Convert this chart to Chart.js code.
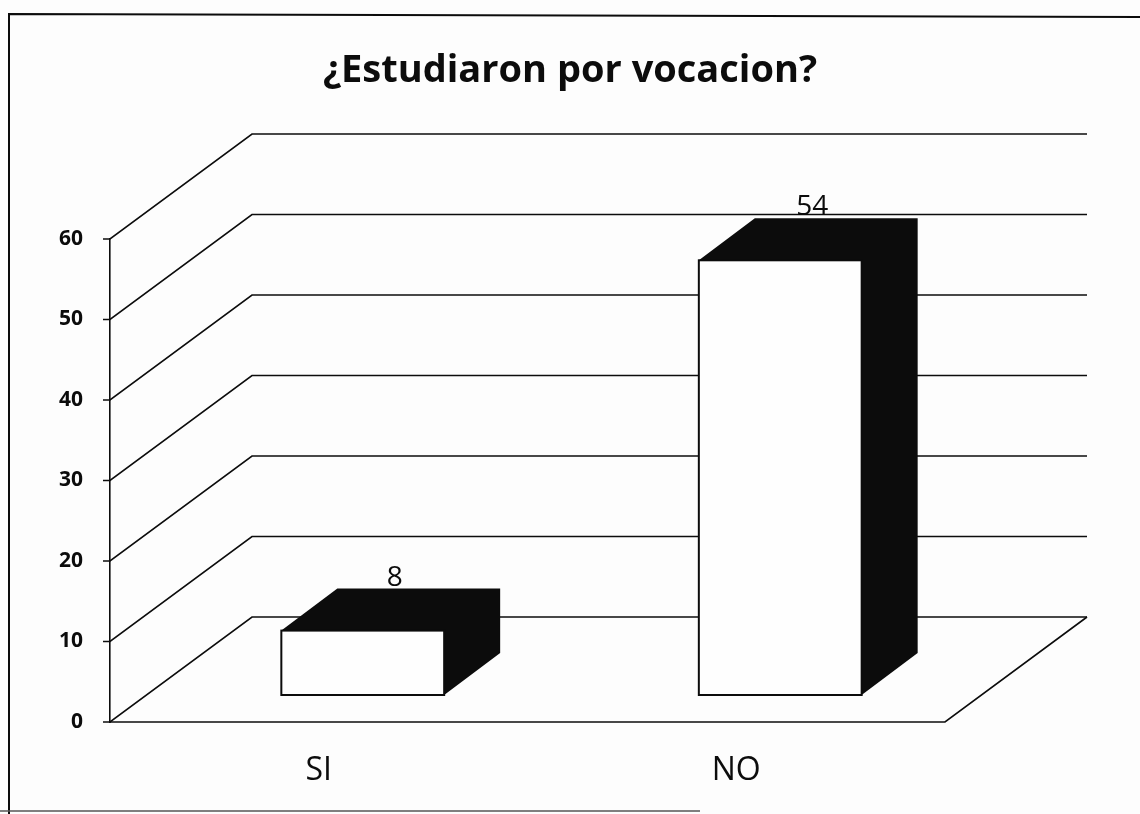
<!DOCTYPE html>
<html>
<head>
<meta charset="utf-8">
<script src="https://cdn.jsdelivr.net/npm/chart.js@4.4.0/dist/chart.umd.min.js"></script>
<style>
  html, body { margin: 0; padding: 0; background: #fdfdfd; }
  #wrap { width: 1140px; height: 814px; position: relative; }
</style>
</head>
<body>
<div id="wrap"><canvas id="chart"></canvas></div>
<script>
const titleText = '¿Estudiaron por vocacion?';
const categories = ['SI', 'NO'];
const values = [8, 54];
const yMax = 60;
const yStep = 10;

// depth of the 3D box, and where bars sit inside it
const wallDX = 142, wallDY = -105;
const barOffX = 44, barOffY = -27;
const barDX = 56, barDY = -42;
const ink = '#0c0c0c';

const wallsPlugin = {
  id: 'walls',
  beforeDraw(chart) {
    const c = chart.ctx;
    c.save();
    c.strokeStyle = ink;
    c.lineWidth = 2;
    c.beginPath();
    c.moveTo(9, 814); c.lineTo(9, 14); c.lineTo(1140, 17);
    c.stroke();
    c.strokeStyle = '#555';
    c.lineWidth = 1.5;
    c.beginPath();
    c.moveTo(0, 811); c.lineTo(700, 811);
    c.stroke();
    c.restore();
  },
  beforeDatasetsDraw(chart) {
    const c = chart.ctx;
    const y = chart.scales.y;
    const left = chart.chartArea.left, right = chart.chartArea.right;
    c.save();
    c.strokeStyle = ink;
    c.lineWidth = 1.6;
    y.ticks.forEach(t => {
      const py = y.getPixelForValue(t.value);
      c.beginPath();
      c.moveTo(left - 7, py);
      c.lineTo(left, py);
      c.lineTo(left + wallDX, py + wallDY);
      c.lineTo(right + wallDX, py + wallDY);
      c.stroke();
    });
    const p0 = y.getPixelForValue(0);
    c.beginPath();
    c.moveTo(left, p0);
    c.lineTo(right, p0);
    c.lineTo(right + wallDX, p0 + wallDY);
    c.stroke();
    c.restore();
  },
  afterDatasetsDraw(chart) {
    const c = chart.ctx;
    const meta = chart.getDatasetMeta(0);
    c.save();
    meta.data.forEach((bar, i) => {
      const x1 = bar.x - bar.width / 2 + barOffX;
      const x2 = bar.x + bar.width / 2 + barOffX;
      const yt = bar.y + barOffY;
      const yb = bar.base + barOffY;
      c.fillStyle = ink;
      c.beginPath();
      c.moveTo(x1, yt);
      c.lineTo(x1 + barDX, yt + barDY);
      c.lineTo(x2 + barDX, yt + barDY);
      c.lineTo(x2 + barDX, yb + barDY);
      c.lineTo(x2, yb);
      c.lineTo(x2, yt);
      c.closePath();
      c.fill();
      c.fillStyle = '#fefefe';
      c.strokeStyle = ink;
      c.lineWidth = 2;
      c.fillRect(x1, yt, x2 - x1, yb - yt);
      c.strokeRect(x1, yt, x2 - x1, yb - yt);

      c.fillStyle = ink;
      c.font = '28px "Open Sans"';
      c.textAlign = 'center';
      c.textBaseline = 'alphabetic';
      c.fillText(String(values[i]), (x1 + x2) / 2 + barDX / 2 + 4, yt + barDY / 2 - 24);
    });
    c.restore();
  }
};

new Chart(document.getElementById('chart'), {
  type: 'bar',
  data: {
    labels: categories,
    datasets: [{
      data: values,
      backgroundColor: 'rgba(0,0,0,0)',
      borderWidth: 0,
      categoryPercentage: 1,
      barPercentage: 0.39
    }]
  },
  options: {
    responsive: true,
    maintainAspectRatio: false,
    animation: false,
    layout: { padding: 0 },
    plugins: {
      legend: { display: false },
      tooltip: { enabled: false },
      title: {
        display: true,
        text: titleText,
        color: ink,
        font: { family: 'Open Sans', size: 38, weight: 'bold', lineHeight: 1.2 },
        padding: { top: 48, bottom: 145.4 }
      }
    },
    scales: {
      x: {
        grid: { display: false, drawTicks: false },
        border: { display: false },
        ticks: { color: ink, font: { family: 'Open Sans', size: 32 }, padding: 30 },
        afterFit: s => { s.height = 92; }
      },
      y: {
        min: 0,
        max: yMax,
        grid: { display: false, drawTicks: false },
        border: { display: true, color: ink, width: 1.6 },
        ticks: { stepSize: yStep, color: ink, font: { family: 'Open Sans', size: 21, weight: 'bold' }, padding: 27 },
        afterFit: s => { s.width = 110; }
      },
      // empty right axis keeps room for the depth of the back wall
      side: {
        type: 'linear',
        position: 'right',
        grid: { display: false, drawTicks: false },
        border: { display: false },
        ticks: { display: false },
        afterFit: s => { s.width = 195; }
      }
    }
  },
  plugins: [wallsPlugin]
});
</script>
</body>
</html>
